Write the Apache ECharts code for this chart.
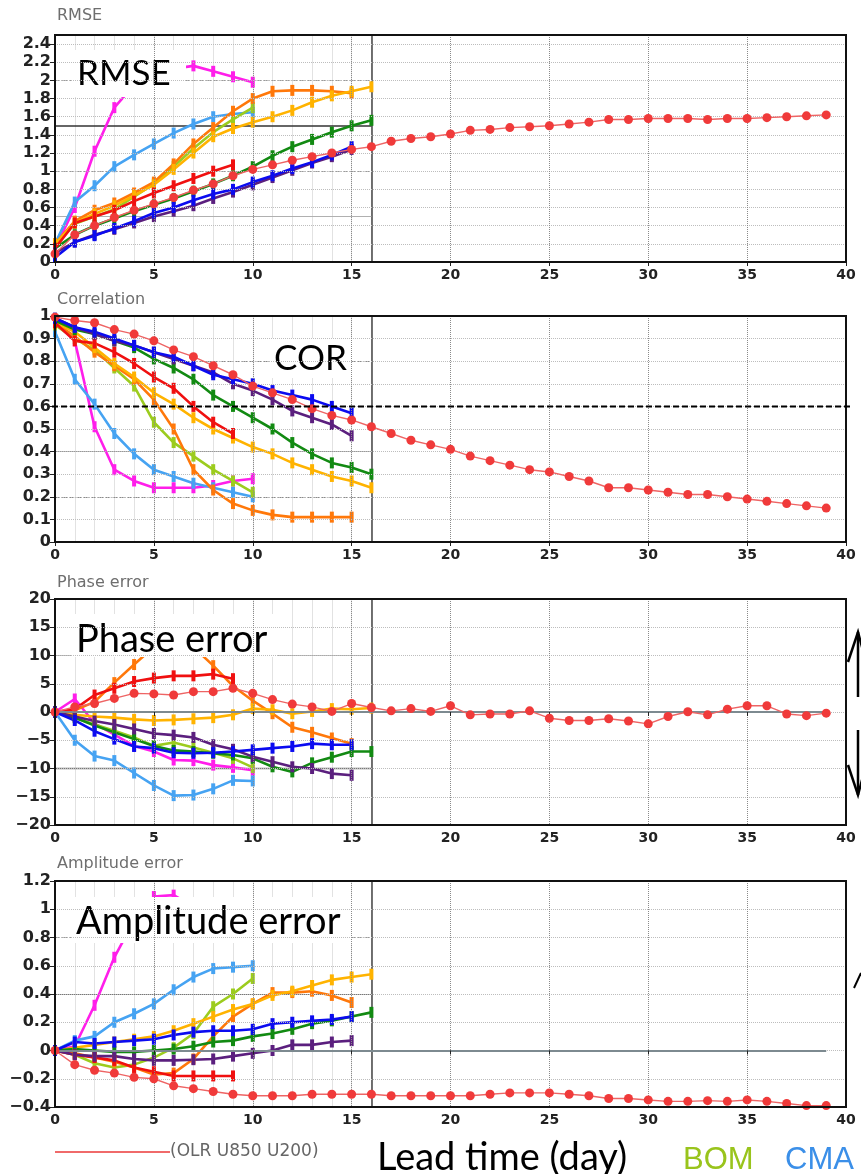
<!DOCTYPE html>
<html><head><meta charset="utf-8">
<script src="https://cdn.jsdelivr.net/npm/echarts@6/dist/echarts.min.js"></script>
<style>html,body{margin:0;padding:0;background:#fff}#c{width:861px;height:1174px}</style>
</head><body><div id="c"></div>
<script>
// ---------- DATA (value at lead day 0,1,2,...) ----------
const leadDayTicks = [0, 5, 10, 15, 20, 25, 30, 35, 40];

// RMSE
const rmse_magenta = [0.15, 0.6, 1.22, 1.7, 1.95, 2.07, 2.13, 2.16, 2.1, 2.04, 1.98];
const rmse_cma     = [0.2, 0.66, 0.84, 1.05, 1.18, 1.3, 1.42, 1.52, 1.6, 1.63, 1.65];
const rmse_bom     = [0.18, 0.42, 0.5, 0.58, 0.72, 0.86, 1.05, 1.25, 1.43, 1.57, 1.7];
const rmse_orange  = [0.2, 0.45, 0.57, 0.65, 0.76, 0.88, 1.08, 1.3, 1.48, 1.66, 1.8, 1.88, 1.89, 1.89, 1.88, 1.86];
const rmse_yorange = [0.2, 0.43, 0.53, 0.62, 0.73, 0.85, 1.02, 1.2, 1.38, 1.47, 1.54, 1.6, 1.67, 1.76, 1.83, 1.88, 1.93];
const rmse_green   = [0.15, 0.3, 0.4, 0.48, 0.56, 0.63, 0.7, 0.78, 0.86, 0.95, 1.05, 1.17, 1.27, 1.35, 1.43, 1.5, 1.56];
const rmse_red     = [0.15, 0.43, 0.5, 0.57, 0.67, 0.76, 0.84, 0.92, 1.0, 1.07];
const rmse_purple  = [0.1, 0.22, 0.3, 0.36, 0.43, 0.5, 0.56, 0.62, 0.7, 0.77, 0.85, 0.93, 1.01, 1.09, 1.16, 1.24];
const rmse_blue    = [0.05, 0.22, 0.29, 0.37, 0.45, 0.54, 0.6, 0.68, 0.75, 0.8, 0.88, 0.95, 1.03, 1.1, 1.18, 1.27];
const rmse_olr     = [0.09, 0.3, 0.4, 0.49, 0.57, 0.64, 0.71, 0.79, 0.86, 0.95, 1.02, 1.07, 1.12, 1.16, 1.2, 1.24, 1.27, 1.33, 1.36, 1.38,
                      1.41, 1.45, 1.46, 1.48, 1.49, 1.5, 1.52, 1.54, 1.57, 1.57, 1.58, 1.58, 1.58, 1.57, 1.58, 1.58, 1.59, 1.6, 1.61, 1.62];

// Correlation
const cor_magenta = [0.97, 0.89, 0.51, 0.32, 0.27, 0.24, 0.24, 0.24, 0.25, 0.27, 0.28];
const cor_cma     = [0.93, 0.72, 0.61, 0.48, 0.39, 0.32, 0.29, 0.26, 0.24, 0.22, 0.2];
const cor_bom     = [0.96, 0.9, 0.85, 0.77, 0.69, 0.53, 0.44, 0.38, 0.32, 0.27, 0.22];
const cor_orange  = [0.97, 0.91, 0.84, 0.78, 0.72, 0.63, 0.5, 0.32, 0.23, 0.17, 0.14, 0.12, 0.11, 0.11, 0.11, 0.11];
const cor_yorange = [0.97, 0.93, 0.86, 0.79, 0.73, 0.66, 0.61, 0.55, 0.5, 0.46, 0.42, 0.39, 0.35, 0.32, 0.29, 0.27, 0.24];
const cor_green   = [0.98, 0.94, 0.92, 0.89, 0.86, 0.81, 0.77, 0.72, 0.65, 0.6, 0.55, 0.5, 0.44, 0.39, 0.35, 0.33, 0.3];
const cor_red     = [0.97, 0.89, 0.88, 0.84, 0.79, 0.73, 0.68, 0.6, 0.53, 0.48];
const cor_purple  = [0.99, 0.95, 0.92, 0.89, 0.87, 0.84, 0.81, 0.78, 0.75, 0.7, 0.67, 0.63, 0.58, 0.55, 0.52, 0.47];
const cor_blue    = [0.99, 0.95, 0.93, 0.9, 0.87, 0.84, 0.82, 0.78, 0.74, 0.72, 0.7, 0.67, 0.65, 0.63, 0.6, 0.57];
const cor_olr     = [0.995, 0.98, 0.97, 0.94, 0.92, 0.89, 0.85, 0.82, 0.78, 0.74, 0.69, 0.66, 0.63, 0.59, 0.56, 0.54, 0.51, 0.48, 0.45, 0.43,
                     0.41, 0.38, 0.36, 0.34, 0.32, 0.31, 0.29, 0.27, 0.24, 0.24, 0.23, 0.22, 0.21, 0.21, 0.2, 0.19, 0.18, 0.17, 0.16, 0.15];

// Phase error
const pha_magenta = [0, 2.3, -2, -4, -6, -7, -8.5, -8.6, -9.4, -9.8, -10.3];
const pha_cma     = [0, -5, -7.8, -8.6, -10.8, -13, -14.8, -14.7, -13.6, -12.1, -12.2];
const pha_bom     = [0, -1, -2.2, -3.3, -4.5, -6, -5.4, -6.3, -7.2, -8.2, -9.8];
const pha_orange  = [0, 0.3, 1.8, 5.2, 8.4, 11.5, 12, 11.5, 8.2, 4.6, 2, -0.3, -2.7, -3.6, -4.6, -5.6];
const pha_yorange = [0, -0.5, -0.8, -1.0, -1.3, -1.5, -1.4, -1.2, -1.0, -0.5, 0.6, 0.4, -0.3, 0.1, 0.6, 0.5, 0.7];
const pha_green   = [0, -1, -2.4, -3.6, -4.8, -6, -6.8, -7, -7.3, -7.6, -8.2, -9.7, -10.6, -9, -8, -7, -7];
const pha_red     = [0, 0.5, 3, 4.2, 5.4, 6, 6.4, 6.4, 6.7, 5.9];
const pha_purple  = [0, -0.8, -1.6, -2.2, -3, -3.8, -4.1, -4.5, -5.8, -6.6, -7.9, -8.8, -9.7, -10, -10.9, -11.2];
const pha_blue    = [0, -1.5, -3.4, -4.8, -6.1, -6.4, -7.2, -7.3, -7.2, -7, -6.7, -6.4, -6.1, -5.6, -5.8, -5.8];
const pha_olr     = [0, 0.9, 1.5, 2.4, 3.3, 3.2, 3.0, 3.6, 3.6, 4.2, 3.3, 2.2, 1.4, 0.9, 0.1, 1.5, 0.8, 0.2, 0.6, 0.1,
                     1.1, -0.5, -0.35, -0.35, 0.2, -1.1, -1.5, -1.5, -1.2, -1.6, -2.1, -0.8, 0.05, -0.5, 0.5, 1.1, 1.1, -0.35, -0.65, -0.2];

// Amplitude error
const amp_magenta = [0, 0.03, 0.32, 0.66, 0.92, 1.09, 1.1, 1.02, 0.96, 0.92, 0.88];
const amp_cma     = [0, 0.07, 0.1, 0.2, 0.26, 0.33, 0.43, 0.52, 0.58, 0.59, 0.6];
const amp_bom     = [0, -0.03, -0.09, -0.12, -0.1, -0.05, 0.02, 0.12, 0.31, 0.4, 0.51];
const amp_orange  = [0, -0.02, -0.05, -0.08, -0.12, -0.17, -0.16, -0.06, 0.1, 0.24, 0.33, 0.41, 0.41, 0.42, 0.39, 0.34];
const amp_yorange = [0, 0.02, 0.04, 0.06, 0.08, 0.1, 0.14, 0.19, 0.24, 0.29, 0.33, 0.39, 0.42, 0.46, 0.5, 0.52, 0.54];
const amp_green   = [0, 0.01, 0, -0.01, -0.01, 0, 0.01, 0.03, 0.06, 0.07, 0.1, 0.12, 0.15, 0.19, 0.21, 0.24, 0.27];
const amp_red     = [0, -0.03, -0.05, -0.07, -0.12, -0.15, -0.18, -0.18, -0.18, -0.18];
const amp_purple  = [0, -0.03, -0.04, -0.04, -0.06, -0.07, -0.07, -0.065, -0.06, -0.04, -0.02, 0, 0.04, 0.04, 0.06, 0.07];
const amp_blue    = [0, 0.06, 0.05, 0.06, 0.07, 0.08, 0.11, 0.13, 0.14, 0.14, 0.15, 0.19, 0.2, 0.21, 0.22, 0.24];
const amp_olr     = [0, -0.1, -0.14, -0.16, -0.19, -0.2, -0.25, -0.27, -0.29, -0.31, -0.32, -0.32, -0.32, -0.31, -0.31, -0.31, -0.31, -0.32, -0.32, -0.32,
                     -0.32, -0.32, -0.31, -0.3, -0.3, -0.3, -0.31, -0.32, -0.34, -0.34, -0.35, -0.36, -0.36, -0.355, -0.36, -0.35, -0.36, -0.375, -0.39, -0.39];

const legendLabel = '(OLR U850 U200)';

// ---------- STYLES / LAYOUT ----------
const COLORS = {magenta:'#ff1eea', cma:'#46a3f2', bom:'#9ccc1e', orange:'#ff780a', yorange:'#ffb300',
                green:'#128a12', red:'#f01010', purple:'#5b1f7e', blue:'#0b0bf0'};
const OLR_MARK = '#f03a3a', OLR_LINE = '#ee6464';

const panels = [
  {top:35, height:227, min:0, max:2.5, interval:0.2, hideMax:true,
   models:{magenta:rmse_magenta, cma:rmse_cma, bom:rmse_bom, orange:rmse_orange, yorange:rmse_yorange, green:rmse_green, red:rmse_red, purple:rmse_purple, blue:rmse_blue},
   olr:rmse_olr, zero:false,
   inset:[[2,'dashed','#9a9a9a',1.2],[1.5,'solid','#333',1.5],[1,'dashed','#9a9a9a',1.2],[0.5,'solid','#b0b0b0',1]]},
  {top:316, height:226, min:0, max:1, interval:0.1, hideMax:false,
   models:{magenta:cor_magenta, cma:cor_cma, bom:cor_bom, orange:cor_orange, yorange:cor_yorange, green:cor_green, red:cor_red, purple:cor_purple, blue:cor_blue},
   olr:cor_olr, zero:false,
   inset:[[0.8,'dashed','#8a8a8a',1.2],[0.4,'solid','#999',1.2],[0.2,'dashed','#8a8a8a',1.2]]},
  {top:599, height:226, min:-20, max:20, interval:5, hideMax:false,
   models:{magenta:pha_magenta, cma:pha_cma, bom:pha_bom, orange:pha_orange, yorange:pha_yorange, green:pha_green, red:pha_red, purple:pha_purple, blue:pha_blue},
   olr:pha_olr, zero:true,
   inset:[[10,'solid','#aaa',1.2],[-10,'solid','#777',1.3]]},
  {top:881, height:226, min:-0.4, max:1.2, interval:0.2, hideMax:false,
   models:{magenta:amp_magenta, cma:amp_cma, bom:amp_bom, orange:amp_orange, yorange:amp_yorange, green:amp_green, red:amp_red, purple:amp_purple, blue:amp_blue},
   olr:amp_olr, zero:true,
   inset:[[0.8,'dashed','#9a9a9a',1.2],[0.4,'solid','#777',1.2]]}
];

const GL = 55, GW = 791, XMAX = 40, INSET_MAX = 16;
const labelFont = '"DejaVu Sans", sans-serif';
const fmt = v => String(+(+v).toFixed(2)).replace('-', '\u2212');

const grids = [], xAxes = [], yAxes = [], series = [];
panels.forEach((p, pi) => {
  const gMain = pi*2, gIn = pi*2+1;
  grids.push({left:GL, top:p.top, width:GW, height:p.height, show:true, borderColor:'#111', borderWidth:2, backgroundColor:'transparent', z:6});
  grids.push({left:GL, top:p.top, width:GW*INSET_MAX/XMAX, height:p.height, show:false});
  xAxes.push({gridIndex:gMain, type:'value', min:0, max:XMAX, interval:5, z:4,
    axisLine:{show:false}, axisTick:{show:true, length:4, lineStyle:{color:'#222'}},
    axisLabel:{color:'#222', fontFamily:labelFont, fontWeight:'bold', fontSize:14, margin:6,
      customValues: leadDayTicks},
    splitLine:{show:true, lineStyle:{type:'dotted', color:'#8a8a8a', width:1}}});
  xAxes.push({gridIndex:gIn, type:'value', min:0, max:INSET_MAX, interval:1, z:0,
    axisLine:{show:false}, axisTick:{show:false}, axisLabel:{show:false},
    splitLine:{show:true, lineStyle:{type:'solid', color:'#e2e2e2', width:1}}});
  yAxes.push({gridIndex:gMain, type:'value', min:p.min, max:p.max, interval:p.interval, z:4,
    axisLine:{show:false}, axisTick:{show:true, length:5, lineStyle:{color:'#222'}},
    axisLabel:{color:'#222', fontFamily:labelFont, fontWeight:'bold', fontSize:16, margin:4, showMaxLabel:!p.hideMax, formatter:fmt},
    splitLine:{show:true, lineStyle:{type:'dotted', color:'#bdbdbd', width:1}}});
  yAxes.push({gridIndex:gIn, type:'value', min:p.min, max:p.max, position:'right', z:0,
    axisLine:{show:true, onZero:false, lineStyle:{color:'#444', width:1.5}}, axisTick:{show:false}, axisLabel:{show:false},
    splitLine:{show:false}});

  let first = true;
  Object.keys(p.models).forEach(key => {
    const col = COLORS[key];
    const s = {type:'line', name:key, xAxisIndex:gIn, yAxisIndex:gIn, z:2, silent:true,
      data:p.models[key].map((v,i)=>[i,v]),
      symbol:'path://M0,0h2v10h-2z', symbolSize:[4,11], showSymbol:true,
      lineStyle:{color:col, width:2.6}, itemStyle:{color:col}};
    if (first) {
      s.markLine = {silent:true, z:1, symbol:['none','none'], label:{show:false}, animation:false,
        data:p.inset.map(l => ({yAxis:l[0], lineStyle:{type:l[1], color:l[2], width:l[3]}}))};
      first = false;
    }
    series.push(s);
  });
  const olr = {type:'line', name:'OLR U850 U200', xAxisIndex:gMain, yAxisIndex:gMain, z:5, silent:true,
    data:p.olr.map((v,i)=>[i,v]), symbol:'circle', symbolSize:9, showSymbol:true,
    lineStyle:{color:OLR_LINE, width:1.4}, itemStyle:{color:OLR_MARK}};
  if (p.zero) {
    olr.markLine = {silent:true, z:4, symbol:['none','none'], label:{show:false}, animation:false,
      data:[[{coord:[0,0], lineStyle:{color:'#7d8a90', width:1.8, type:'solid'}},{coord:[39,0]}]]};
  }
  series.push(olr);
});

const chart = echarts.init(document.getElementById('c'), null, {renderer:'canvas'});

function boxLabel(text, size, x, y, bx, by, bw, bh) {
  return [
    {type:'rect', z:3, silent:true, shape:{x:bx, y:by, width:bw, height:bh}, style:{fill:'#fff'}},
    {type:'text', z:3.5, silent:true, x:x, y:y, style:{text:text, fill:'#000', font:size + 'px Lato, "Open Sans", sans-serif', textVerticalAlign:'middle'}}
  ];
}
const smallTitle = (t, y) => ({type:'text', z:7, silent:true, x:57, y:y,
  style:{text:t, fill:'#6e6e6e', font:'16px "DejaVu Sans", sans-serif', textVerticalAlign:'middle'}});

const graphics = [
  smallTitle('RMSE', 16), smallTitle('Correlation', 300), smallTitle('Phase error', 583), smallTitle('Amplitude error', 864),
  ...boxLabel('RMSE', 35, 77, 74, 72, 50, 114, 47),
  ...boxLabel('COR', 35, 274, 359, 270, 338, 82, 40),
  ...boxLabel('Phase error', 38, 76, 640, 72, 614, 206, 43),
  ...boxLabel('Amplitude error', 38, 76, 922, 72, 897, 280, 46),
  // legend
  {type:'line', z:7, silent:true, shape:{x1:55, y1:1152, x2:170, y2:1152}, style:{stroke:'#f06a6a', lineWidth:2}},
  {type:'text', z:7, silent:true, x:170, y:1152, style:{text:legendLabel, fill:'#666', font:'17px "DejaVu Sans", sans-serif', textVerticalAlign:'middle'}},
  {type:'text', z:7, silent:true, x:377, y:1158, style:{text:'Lead time (day)', fill:'#000', font:'38px Lato, "Open Sans", sans-serif', textVerticalAlign:'middle'}},
  {type:'text', z:7, silent:true, x:683, y:1160, style:{text:'BOM', fill:'#99c41c', font:'31px "Liberation Sans", Arial, sans-serif', textVerticalAlign:'middle'}},
  {type:'text', z:7, silent:true, x:785, y:1160, style:{text:'CMA', fill:'#3b8fe8', font:'31px "Liberation Sans", Arial, sans-serif', textVerticalAlign:'middle'}},
  // arrows at right edge of phase panel
  {type:'polyline', z:7, silent:true, shape:{points:[[858,697],[858,632]]}, style:{stroke:'#000', lineWidth:2.5}},
  {type:'polyline', z:7, silent:true, shape:{points:[[848,662],[858,632],[866,662]]}, style:{stroke:'#000', lineWidth:2.5, fill:null}},
  {type:'polyline', z:7, silent:true, shape:{points:[[858,730],[858,795]]}, style:{stroke:'#000', lineWidth:2.5}},
  {type:'polyline', z:7, silent:true, shape:{points:[[848,765],[858,795],[866,765]]}, style:{stroke:'#000', lineWidth:2.5, fill:null}},
  {type:'polyline', z:7, silent:true, shape:{points:[[854,988],[861,973]]}, style:{stroke:'#000', lineWidth:2}}
];

chart.setOption({
  animation:false,
  backgroundColor:'#fff',
  grid:grids, xAxis:xAxes, yAxis:yAxes, series:series,
  graphic:graphics
});

// thick dashed threshold line at correlation 0.6 across the panel
const y06 = chart.convertToPixel({yAxisIndex:2}, 0.6);
chart.setOption({graphic: graphics.concat([
  {type:'line', z:7, silent:true, shape:{x1:52, y1:y06, x2:852, y2:y06}, style:{stroke:'#000', lineWidth:2, lineDash:[6,3]}}
])}, {replaceMerge:['graphic']});
</script></body></html>
